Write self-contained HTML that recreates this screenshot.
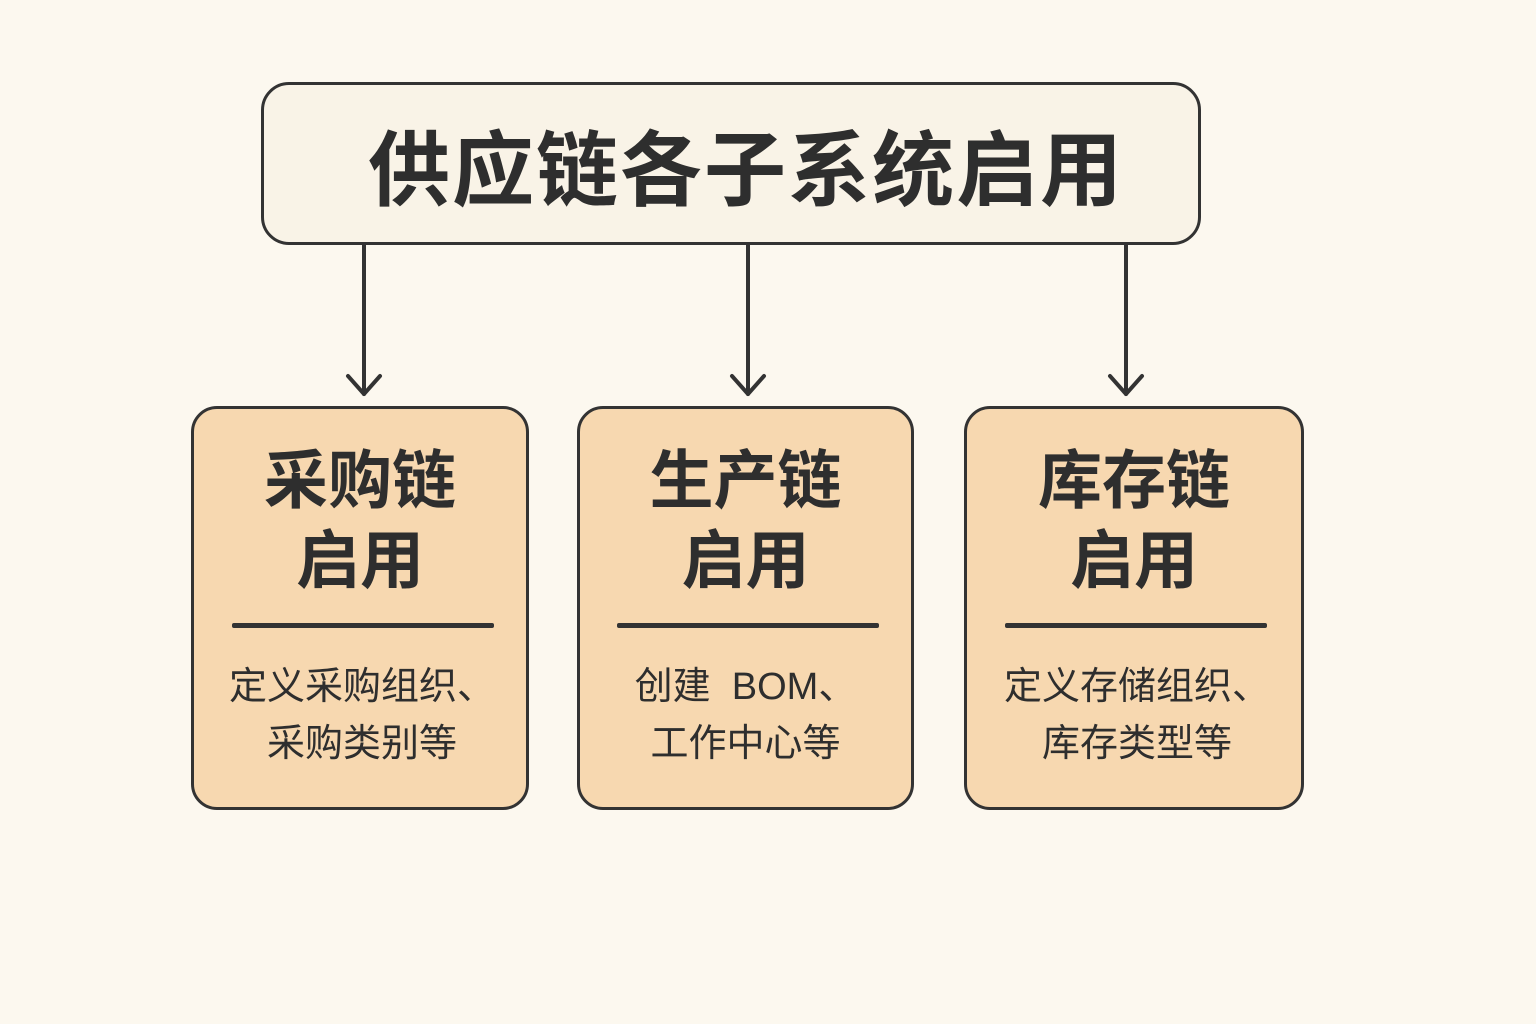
<!DOCTYPE html>
<html><head><meta charset="utf-8"><style>
html,body{margin:0;padding:0;}
body{width:1536px;height:1024px;background:#fcf8ef;position:relative;overflow:hidden;font-family:"Liberation Sans","Noto Sans CJK SC",sans-serif;color:#2e2e2e;}
.top{position:absolute;left:261px;top:82px;width:934px;height:157px;border:3.5px solid #333;border-radius:28px;background:#f9f3e7;}
.top span{position:absolute;left:0;right:0;top:42px;text-align:center;font-size:82px;font-weight:bold;line-height:90px;letter-spacing:2px;padding-left:30px;}
.box{position:absolute;top:406px;height:398px;border:3.5px solid #333;border-radius:26px;background:#f7d8b0;}
.t{position:absolute;left:0;right:0;top:32px;text-align:center;font-size:64px;font-weight:bold;line-height:80px;}
.hr{position:absolute;top:214px;height:5px;background:#333;border-radius:2px;}
.d{position:absolute;left:0;right:0;top:250px;text-align:center;font-size:38px;line-height:57px;}
</style></head><body>
<div class="top"><span>供应链各子系统启用</span></div>
<svg width="1536" height="1024" style="position:absolute;left:0;top:0">
<g stroke="#333" stroke-width="4" fill="none" stroke-linecap="round" stroke-linejoin="round">
<line x1="364" y1="245" x2="364" y2="394"/><polyline points="348,376 364,394 380,376"/>
<line x1="748" y1="245" x2="748" y2="394"/><polyline points="732,376 748,394 764,376"/>
<line x1="1126" y1="245" x2="1126" y2="394"/><polyline points="1110,376 1126,394 1142,376"/>
</g></svg>
<div class="box" style="left:191px;width:332px;"><div class="t">采购链<br>启用</div><div class="hr" style="left:38px;width:262px"></div><div class="d" style="padding-left:4px">定义采购组织、<br>采购类别等</div></div>
<div class="box" style="left:577px;width:331px;"><div class="t">生产链<br>启用</div><div class="hr" style="left:37px;width:262px"></div><div class="d">创建&nbsp; BOM、<br>工作中心等</div></div>
<div class="box" style="left:964px;width:334px;"><div class="t">库存链<br>启用</div><div class="hr" style="left:38px;width:262px"></div><div class="d" style="padding-left:6px">定义存储组织、<br>库存类型等</div></div>
</body></html>
